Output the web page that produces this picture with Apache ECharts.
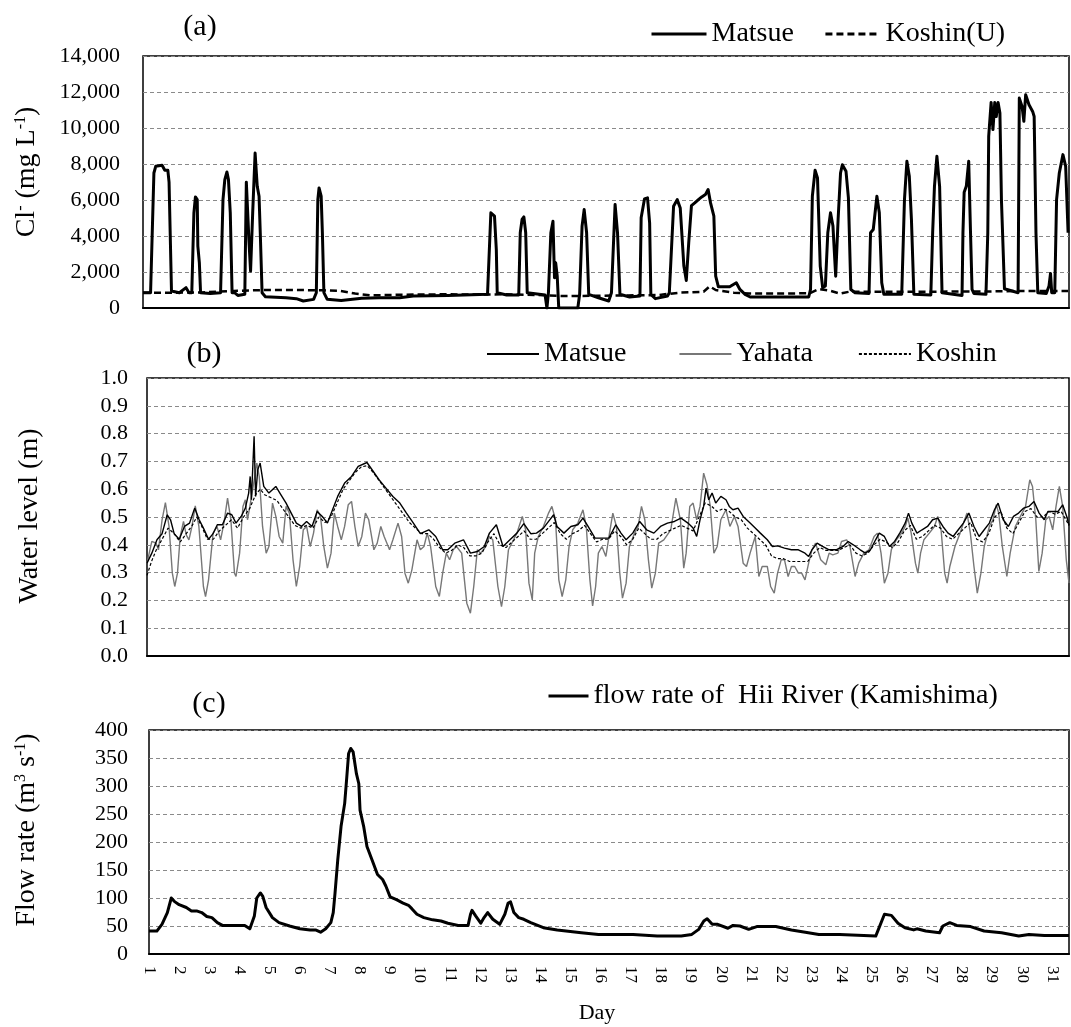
<!DOCTYPE html>
<html><head><meta charset="utf-8">
<script src="https://cdn.jsdelivr.net/npm/echarts@6/dist/echarts.min.js"></script>
<style>html,body{margin:0;padding:0;background:#fff}#c{width:1071px;height:1027px}</style>
</head><body><div id="c"></div>
<script>
// ---------- DATA (day, value) ----------
const dayTicks = [1,2,3,4,5,6,7,8,9,10,11,12,13,14,15,16,17,18,19,20,21,22,23,24,25,26,27,28,29,30,31];

// (a) Cl- Matsue
const matsueCl = [[1.00,850],[1.25,850],[1.36,7500],[1.42,7870],[1.63,7930],[1.72,7650],[1.82,7650],[1.86,6990],[1.94,940],[2.20,850],[2.42,1130],[2.52,850],[2.61,850],[2.68,5290],[2.73,6170],[2.79,6020],[2.81,3440],[2.86,2510],[2.90,850],[3.22,810],[3.56,850],[3.64,6020],[3.70,7130],[3.77,7560],[3.82,7130],[3.88,5290],[3.94,850],[4.02,850],[4.13,700],[4.36,760],[4.41,6990],[4.45,6990],[4.50,3620],[4.55,2050],[4.62,5290],[4.70,8610],[4.77,6760],[4.83,6210],[4.87,4180],[4.93,850],[5.04,630],[5.72,570],[6.06,520],[6.29,390],[6.63,480],[6.72,850],[6.77,6020],[6.81,6670],[6.88,6210],[6.92,4180],[6.97,850],[7.08,480],[7.54,420],[8.22,540],[8.79,570],[9.47,570],[9.92,670],[11.06,700],[12.37,760],[12.43,850],[12.48,5290],[12.52,5380],[12.60,5100],[12.66,3250],[12.69,850],[13.00,720],[13.40,720],[13.45,4180],[13.51,4920],[13.57,5060],[13.63,4180],[13.68,850],[14.27,720],[14.33,0],[14.38,850],[14.46,4180],[14.53,4820],[14.58,1680],[14.62,2510],[14.67,1770],[14.72,0],[15.35,0],[15.41,760],[15.44,850],[15.49,4550],[15.56,5470],[15.64,4180],[15.71,760],[16.03,570],[16.37,390],[16.46,850],[16.58,5750],[16.66,4180],[16.74,760],[17.06,610],[17.40,670],[17.44,5010],[17.55,6060],[17.65,6120],[17.72,4730],[17.76,760],[17.91,520],[18.31,670],[18.37,850],[18.51,5650],[18.63,6020],[18.73,5560],[18.85,2330],[18.93,1530],[19.01,3620],[19.10,5690],[19.21,5840],[19.33,6020],[19.44,6170],[19.56,6300],[19.65,6580],[19.73,5840],[19.84,5100],[19.90,1770],[19.99,1180],[20.36,1180],[20.58,1400],[20.70,1030],[20.87,760],[21.04,610],[21.72,610],[22.97,610],[23.03,1030],[23.09,6210],[23.18,7650],[23.26,7230],[23.35,2330],[23.43,1130],[23.52,1220],[23.60,4180],[23.69,5290],[23.77,4550],[23.86,1770],[23.94,4920],[24.02,7500],[24.08,7960],[24.20,7600],[24.28,6120],[24.36,1030],[24.50,850],[24.96,810],[25.01,4180],[25.10,4360],[25.22,6210],[25.30,5290],[25.38,1400],[25.45,760],[26.04,760],[26.13,6020],[26.21,8150],[26.29,7320],[26.36,4920],[26.44,760],[27.00,720],[27.06,4180],[27.12,6760],[27.20,8430],[27.29,6760],[27.37,850],[28.03,700],[28.06,4180],[28.10,6430],[28.17,6760],[28.25,8150],[28.31,4180],[28.36,1030],[28.42,810],[28.82,760],[28.88,4180],[28.91,9540],[28.99,11420],[29.05,9910],[29.11,11420],[29.16,10640],[29.22,11420],[29.28,10830],[29.33,6020],[29.43,1070],[29.88,850],[29.92,11660],[30.01,11200],[30.07,10370],[30.13,11850],[30.24,11290],[30.36,10920],[30.41,10640],[30.47,4180],[30.53,850],[30.81,810],[30.90,1220],[30.95,1920],[30.99,850],[31.09,850],[31.15,6020],[31.24,7500],[31.36,8520],[31.45,7870],[31.53,4180]];

// (a) Cl- Koshin(U)
const koshinCl = [[1.00,850],[2.00,850],[3.00,870],[4.00,950],[5.00,1000],[6.00,1000],[7.00,980],[7.50,950],[8.00,800],[8.50,700],[9.00,720],[10.00,750],[11.00,760],[12.00,750],[13.00,760],[14.00,720],[15.00,660],[16.00,680],[17.00,700],[18.00,720],[18.70,850],[19.50,900],[19.70,1200],[19.90,1000],[20.50,850],[21.00,800],[22.00,800],[23.00,820],[23.30,1050],[23.70,950],[24.00,800],[24.30,900],[25.00,900],[26.00,900],[27.00,900],[28.00,920],[29.00,920],[30.00,950],[31.00,950],[31.53,950]];

// (b) water level
const matsueWL = [[1.00,0.334],[1.16,0.37],[1.33,0.418],[1.50,0.44],[1.67,0.508],[1.78,0.49],[1.90,0.44],[2.07,0.42],[2.24,0.466],[2.41,0.478],[2.58,0.532],[2.73,0.49],[2.87,0.46],[3.04,0.42],[3.19,0.44],[3.33,0.472],[3.50,0.472],[3.67,0.514],[3.81,0.508],[3.95,0.478],[4.12,0.502],[4.26,0.532],[4.37,0.586],[4.42,0.646],[4.46,0.562],[4.55,0.79],[4.60,0.574],[4.67,0.67],[4.75,0.694],[4.87,0.61],[5.04,0.586],[5.27,0.61],[5.44,0.58],[5.61,0.55],[5.78,0.514],[5.95,0.478],[6.12,0.466],[6.29,0.484],[6.47,0.466],[6.64,0.52],[6.81,0.502],[6.98,0.478],[7.15,0.526],[7.32,0.574],[7.55,0.622],[7.78,0.646],[8.00,0.682],[8.29,0.696],[8.46,0.67],[8.69,0.634],[8.92,0.604],[9.15,0.574],[9.38,0.55],[9.60,0.514],[9.83,0.478],[10.06,0.44],[10.34,0.454],[10.57,0.43],[10.80,0.382],[10.97,0.382],[11.20,0.406],[11.49,0.418],[11.72,0.37],[11.95,0.376],[12.18,0.394],[12.35,0.442],[12.58,0.472],[12.80,0.394],[13.03,0.418],[13.26,0.442],[13.49,0.476],[13.72,0.44],[13.91,0.442],[14.14,0.46],[14.31,0.484],[14.48,0.508],[14.59,0.466],[14.82,0.442],[15.05,0.466],[15.28,0.472],[15.45,0.496],[15.62,0.466],[15.85,0.424],[16.08,0.424],[16.31,0.424],[16.54,0.472],[16.71,0.442],[16.88,0.418],[17.10,0.442],[17.33,0.484],[17.56,0.454],[17.80,0.442],[18.02,0.466],[18.25,0.478],[18.48,0.484],[18.70,0.496],[18.93,0.478],[19.10,0.46],[19.22,0.43],[19.33,0.49],[19.45,0.538],[19.53,0.604],[19.62,0.562],[19.73,0.586],[19.85,0.55],[20.02,0.574],[20.19,0.562],[20.30,0.538],[20.42,0.526],[20.59,0.532],[20.76,0.502],[20.99,0.478],[21.16,0.46],[21.33,0.442],[21.56,0.418],[21.73,0.394],[21.90,0.396],[22.13,0.388],[22.36,0.382],[22.59,0.382],[22.81,0.37],[22.93,0.358],[23.04,0.382],[23.21,0.406],[23.39,0.394],[23.61,0.382],[23.84,0.382],[24.07,0.394],[24.24,0.412],[24.41,0.4],[24.64,0.382],[24.81,0.37],[24.98,0.382],[25.15,0.418],[25.27,0.442],[25.44,0.43],[25.61,0.394],[25.78,0.412],[25.95,0.442],[26.13,0.478],[26.24,0.514],[26.35,0.478],[26.52,0.442],[26.69,0.454],[26.87,0.466],[27.04,0.49],[27.21,0.496],[27.38,0.466],[27.55,0.442],[27.72,0.43],[27.89,0.454],[28.06,0.478],[28.24,0.514],[28.41,0.466],[28.58,0.43],[28.75,0.454],[28.92,0.478],[29.09,0.526],[29.21,0.55],[29.38,0.49],[29.55,0.466],[29.72,0.502],[29.89,0.514],[30.06,0.532],[30.23,0.538],[30.40,0.556],[30.57,0.514],[30.74,0.49],[30.86,0.52],[31.03,0.52],[31.20,0.52],[31.35,0.544],[31.49,0.5],[31.56,0.47]];

const yahataWL = [[1.00,0.334],[1.16,0.412],[1.30,0.406],[1.38,0.382],[1.50,0.49],[1.61,0.552],[1.73,0.466],[1.84,0.298],[1.92,0.25],[2.01,0.298],[2.10,0.43],[2.21,0.484],[2.30,0.436],[2.39,0.418],[2.49,0.466],[2.60,0.54],[2.72,0.466],[2.87,0.25],[2.94,0.214],[3.04,0.274],[3.19,0.442],[3.32,0.466],[3.44,0.418],[3.55,0.478],[3.67,0.568],[3.78,0.49],[3.90,0.298],[3.95,0.286],[4.07,0.37],[4.18,0.538],[4.26,0.562],[4.33,0.49],[4.41,0.538],[4.52,0.61],[4.64,0.694],[4.72,0.646],[4.83,0.466],[4.95,0.37],[5.04,0.394],[5.16,0.55],[5.27,0.502],[5.38,0.43],[5.50,0.406],[5.61,0.538],[5.72,0.514],[5.84,0.346],[5.95,0.25],[6.06,0.322],[6.18,0.454],[6.29,0.466],[6.41,0.394],[6.52,0.442],[6.64,0.526],[6.75,0.502],[6.86,0.394],[6.98,0.316],[7.10,0.37],[7.21,0.514],[7.32,0.466],[7.44,0.418],[7.55,0.466],[7.67,0.544],[7.78,0.556],[7.89,0.466],[8.00,0.394],[8.12,0.43],[8.24,0.514],[8.35,0.49],[8.52,0.382],[8.63,0.406],[8.75,0.466],[8.86,0.43],[9.04,0.382],[9.15,0.418],[9.32,0.478],[9.44,0.43],[9.55,0.298],[9.66,0.262],[9.78,0.31],[9.95,0.418],[10.06,0.382],[10.18,0.394],[10.29,0.442],[10.40,0.394],[10.57,0.25],[10.69,0.214],[10.80,0.298],[10.92,0.37],[11.03,0.346],[11.15,0.382],[11.26,0.394],[11.43,0.37],[11.60,0.19],[11.72,0.154],[11.83,0.25],[11.95,0.382],[12.06,0.37],[12.23,0.394],[12.35,0.43],[12.46,0.418],[12.63,0.25],[12.75,0.178],[12.86,0.25],[12.98,0.382],[13.15,0.418],[13.26,0.442],[13.44,0.502],[13.55,0.454],[13.66,0.262],[13.77,0.202],[13.85,0.37],[13.97,0.43],[14.14,0.466],[14.31,0.514],[14.42,0.538],[14.54,0.49],[14.65,0.274],[14.76,0.214],[14.88,0.274],[14.99,0.394],[15.11,0.454],[15.28,0.478],[15.45,0.526],[15.56,0.466],[15.68,0.274],[15.77,0.18],[15.87,0.25],[15.96,0.37],[16.08,0.394],[16.21,0.358],[16.33,0.442],[16.44,0.514],[16.56,0.466],[16.67,0.298],[16.76,0.208],[16.88,0.262],[16.99,0.394],[17.16,0.442],[17.28,0.466],[17.39,0.538],[17.50,0.49],[17.62,0.346],[17.73,0.244],[17.85,0.298],[17.96,0.406],[18.13,0.418],[18.36,0.454],[18.53,0.568],[18.68,0.49],[18.79,0.316],[18.87,0.37],[18.99,0.538],[19.10,0.55],[19.22,0.49],[19.33,0.538],[19.45,0.658],[19.56,0.616],[19.67,0.538],[19.79,0.37],[19.90,0.394],[20.02,0.49],[20.19,0.526],[20.32,0.466],[20.47,0.502],[20.59,0.466],[20.76,0.334],[20.87,0.322],[20.99,0.37],[21.16,0.43],[21.28,0.286],[21.39,0.322],[21.56,0.322],[21.67,0.25],[21.79,0.226],[21.90,0.298],[22.02,0.346],[22.13,0.346],[22.25,0.286],[22.36,0.322],[22.47,0.322],[22.59,0.298],[22.70,0.298],[22.81,0.274],[22.93,0.334],[23.04,0.382],[23.16,0.406],[23.33,0.346],[23.50,0.328],[23.61,0.37],[23.73,0.364],[23.90,0.37],[24.02,0.412],[24.19,0.418],[24.30,0.394],[24.47,0.286],[24.59,0.334],[24.76,0.37],[24.93,0.382],[25.10,0.43],[25.21,0.442],[25.33,0.37],[25.44,0.262],[25.56,0.298],[25.67,0.382],[25.84,0.418],[26.01,0.442],[26.13,0.466],[26.22,0.496],[26.33,0.442],[26.47,0.334],[26.55,0.298],[26.64,0.37],[26.75,0.418],[26.93,0.442],[27.10,0.466],[27.21,0.502],[27.32,0.454],[27.44,0.298],[27.52,0.262],[27.61,0.322],[27.78,0.394],[27.95,0.442],[28.06,0.478],[28.18,0.514],[28.29,0.442],[28.41,0.322],[28.52,0.226],[28.64,0.298],[28.75,0.394],[28.92,0.466],[29.04,0.49],[29.15,0.544],[29.23,0.514],[29.35,0.394],[29.50,0.286],[29.61,0.37],[29.78,0.466],[29.95,0.502],[30.12,0.538],[30.26,0.634],[30.35,0.61],[30.46,0.49],[30.56,0.304],[30.67,0.37],[30.79,0.49],[30.90,0.502],[31.02,0.454],[31.13,0.538],[31.24,0.61],[31.35,0.538],[31.47,0.346],[31.56,0.262]];

const koshinWL = [[1.00,0.29],[1.15,0.34],[1.30,0.38],[1.50,0.42],[1.70,0.46],[1.90,0.44],[2.10,0.41],[2.30,0.44],[2.50,0.47],[2.65,0.5],[2.80,0.47],[3.00,0.42],[3.20,0.42],[3.40,0.45],[3.60,0.47],[3.80,0.49],[4.00,0.46],[4.20,0.5],[4.40,0.53],[4.60,0.58],[4.75,0.6],[4.90,0.58],[5.10,0.57],[5.30,0.56],[5.50,0.53],[5.70,0.5],[5.90,0.47],[6.10,0.46],[6.30,0.47],[6.50,0.46],[6.70,0.5],[6.90,0.48],[7.10,0.5],[7.30,0.55],[7.50,0.6],[7.70,0.63],[7.90,0.66],[8.10,0.68],[8.30,0.685],[8.50,0.66],[8.70,0.63],[8.90,0.6],[9.10,0.57],[9.30,0.54],[9.50,0.51],[9.70,0.48],[9.90,0.46],[10.10,0.44],[10.30,0.44],[10.50,0.42],[10.70,0.39],[10.90,0.37],[11.10,0.38],[11.30,0.4],[11.50,0.39],[11.70,0.36],[11.90,0.36],[12.10,0.37],[12.30,0.41],[12.50,0.44],[12.70,0.4],[12.90,0.39],[13.10,0.41],[13.30,0.43],[13.50,0.45],[13.70,0.42],[13.90,0.42],[14.10,0.44],[14.30,0.46],[14.50,0.48],[14.70,0.44],[14.90,0.42],[15.10,0.44],[15.30,0.45],[15.50,0.47],[15.70,0.44],[15.90,0.41],[16.10,0.42],[16.30,0.42],[16.50,0.45],[16.70,0.43],[16.90,0.4],[17.10,0.42],[17.30,0.46],[17.50,0.44],[17.70,0.42],[17.90,0.42],[18.10,0.44],[18.30,0.45],[18.50,0.46],[18.70,0.47],[18.90,0.46],[19.10,0.45],[19.30,0.5],[19.50,0.55],[19.70,0.54],[19.90,0.52],[20.10,0.53],[20.30,0.52],[20.50,0.5],[20.70,0.49],[20.90,0.46],[21.10,0.44],[21.30,0.42],[21.50,0.4],[21.70,0.36],[21.90,0.35],[22.10,0.35],[22.30,0.34],[22.50,0.34],[22.70,0.34],[22.90,0.34],[23.10,0.37],[23.30,0.39],[23.50,0.38],[23.70,0.38],[23.90,0.38],[24.10,0.39],[24.30,0.4],[24.50,0.37],[24.70,0.36],[24.90,0.37],[25.10,0.4],[25.30,0.42],[25.50,0.41],[25.70,0.39],[25.90,0.41],[26.10,0.45],[26.30,0.47],[26.50,0.42],[26.70,0.43],[26.90,0.45],[27.10,0.47],[27.30,0.46],[27.50,0.43],[27.70,0.42],[27.90,0.44],[28.10,0.46],[28.30,0.48],[28.50,0.42],[28.70,0.41],[28.90,0.44],[29.10,0.5],[29.30,0.52],[29.50,0.46],[29.70,0.44],[29.90,0.48],[30.10,0.52],[30.30,0.53],[30.50,0.5],[30.70,0.5],[30.90,0.52],[31.10,0.51],[31.30,0.52],[31.56,0.47]];

// (c) flow rate
const flowHii = [[1.00,41],[1.26,41],[1.43,53],[1.61,74],[1.74,100],[1.84,94],[2.00,88],[2.24,83],[2.41,77],[2.58,77],[2.75,74],[2.92,67],[3.09,65],[3.27,56],[3.44,51],[3.84,51],[4.18,51],[4.35,45],[4.50,68],[4.58,100],[4.70,109],[4.78,103],[4.89,83],[5.10,65],[5.32,56],[5.67,50],[6.01,45],[6.35,43],[6.53,43],[6.70,39],[6.87,45],[7.04,56],[7.12,74],[7.18,109],[7.27,168],[7.38,228],[7.50,269],[7.57,316],[7.63,358],[7.70,367],[7.78,361],[7.89,322],[7.97,304],[8.01,257],[8.13,228],[8.24,192],[8.41,168],[8.59,142],[8.76,133],[8.87,121],[9.01,102],[9.22,97],[9.44,91],[9.62,87],[9.73,81],[9.90,71],[10.13,65],[10.42,61],[10.70,59],[10.93,55],[11.27,51],[11.60,51],[11.68,71],[11.73,78],[11.85,68],[12.02,55],[12.13,65],[12.25,74],[12.42,62],[12.65,53],[12.82,71],[12.93,91],[13.01,93],[13.12,74],[13.28,65],[13.45,62],[13.68,56],[14.10,47],[14.56,43],[15.36,38],[15.93,35],[17.08,35],[17.88,32],[18.68,32],[19.03,35],[19.26,44],[19.43,59],[19.54,63],[19.71,53],[19.89,53],[20.23,46],[20.40,51],[20.63,50],[20.92,44],[21.19,49],[21.82,49],[22.34,43],[22.80,39],[23.25,35],[23.94,35],[24.00,32],[25.14,32],[25.43,71],[25.66,69],[25.88,55],[26.11,47],[26.40,43],[26.51,45],[26.80,41],[27.26,38],[27.37,50],[27.60,56],[27.83,51],[28.29,49],[28.74,41],[29.32,38],[29.89,32],[30.23,35],[30.74,33],[31.56,33]];

// ---------- CHART ----------
const FF = 'Liberation Serif';
const DAY_MIN = 1, DAY_MAX = 31.56;
const chart = echarts.init(document.getElementById('c'));
const split = {show:true, lineStyle:{color:'#8a8a8a', type:[4,3], width:1}};
const gridBase = {show:true, borderColor:'#000', borderWidth:1.5, backgroundColor:'transparent', containLabel:false};
function xAx(gi, labels){
  return {type:'value', gridIndex:gi, min:DAY_MIN, max:DAY_MAX, interval:1,
    axisTick:{show:false}, splitLine:{show:false},
    axisLine:{show:true, onZero:false, lineStyle:{color:'#000', width:2}},
    axisLabel: labels ? {show:true, rotate:-90, margin:12, fontFamily:FF, fontSize:17, color:'#000',
      showMinLabel:true, showMaxLabel:true,
      formatter: v => dayTicks.indexOf(Math.round(v*1000)/1000) >= 0 ? String(v) : ''} : {show:false}};
}
function yAx(gi, min, max, interval, margin, fmt){
  return {type:'value', gridIndex:gi, min:min, max:max, interval:interval,
    axisTick:{show:false}, axisLine:{show:false}, splitLine:split,
    axisLabel:{margin:margin, fontFamily:FF, fontSize:22, color:'#000', formatter:fmt}};
}
const legText = {fontFamily:FF, fontSize:28, color:'#000'};
const legItem = {opacity:0, borderWidth:0};
const sup = {fontFamily:FF, fontSize:16, color:'#000', verticalAlign:'top'};
const nrm = {fontFamily:FF, fontSize:28, color:'#000'};

chart.setOption({
  animation:false,
  backgroundColor:'#fff',
  grid:[
    Object.assign({left:143, right:2, top:56, height:252}, gridBase),
    Object.assign({left:147, right:2, top:378, height:278}, gridBase),
    Object.assign({left:149, right:2, top:730, height:224}, gridBase)
  ],
  xAxis:[xAx(0,false), xAx(1,false), xAx(2,true)],
  yAxis:[
    yAx(0, 0, 14000, 2000, 23, v => v.toLocaleString('en-US')),
    yAx(1, 0, 1, 0.1, 19, v => v.toFixed(1)),
    yAx(2, 0, 400, 50, 21, v => String(v))
  ],
  legend:[
    {data:['Matsue','Koshin(U)'], left:645, top:15, itemWidth:55, itemHeight:14, itemGap:30, textStyle:legText, itemStyle:legItem, lineStyle:{width:3}, selectedMode:false},
    {data:['Matsue ','Yahata','Koshin'], left:481, top:335, itemWidth:52, itemHeight:14, itemGap:45, textStyle:legText, itemStyle:legItem, selectedMode:false},
    {data:['flow rate of  Hii River (Kamishima)'], left:542, top:677, itemWidth:40, itemHeight:14, itemGap:20, textStyle:legText, itemStyle:legItem, lineStyle:{width:3}, selectedMode:false}
  ],
  series:[
    {name:'Matsue', type:'line', xAxisIndex:0, yAxisIndex:0, data:matsueCl, symbol:'none', lineStyle:{color:'#000', width:3, join:'round'}, itemStyle:{color:'#000'}, z:3},
    {name:'Koshin(U)', type:'line', xAxisIndex:0, yAxisIndex:0, data:koshinCl, symbol:'none', lineStyle:{color:'#000', width:2.5, type:[7,4]}, itemStyle:{color:'#000'}, z:2},
    {name:'Matsue ', type:'line', xAxisIndex:1, yAxisIndex:1, data:matsueWL, symbol:'none', lineStyle:{color:'#000', width:1.4}, itemStyle:{color:'#000'}, z:4},
    {name:'Yahata', type:'line', xAxisIndex:1, yAxisIndex:1, data:yahataWL, symbol:'none', lineStyle:{color:'#777', width:1.4}, itemStyle:{color:'#777'}, z:2},
    {name:'Koshin', type:'line', xAxisIndex:1, yAxisIndex:1, data:koshinWL, symbol:'none', lineStyle:{color:'#000', width:1.2, type:[3,2]}, itemStyle:{color:'#000'}, z:3},
    {name:'flow rate of  Hii River (Kamishima)', type:'line', xAxisIndex:2, yAxisIndex:2, data:flowHii, symbol:'none', lineStyle:{color:'#000', width:3, join:'round'}, itemStyle:{color:'#000'}, z:3}
  ],
  graphic:[
    {type:'text', x:200, y:27, style:{text:'(a)', fontFamily:FF, fontSize:30, fill:'#000', align:'center', verticalAlign:'middle'}},
    {type:'text', x:204, y:354, style:{text:'(b)', fontFamily:FF, fontSize:30, fill:'#000', align:'center', verticalAlign:'middle'}},
    {type:'text', x:209, y:704, style:{text:'(c)', fontFamily:FF, fontSize:30, fill:'#000', align:'center', verticalAlign:'middle'}},
    {type:'text', x:27, y:172, rotation:Math.PI/2, style:{text:'{n|Cl}{s|-}{n| (mg L}{s|-1}{n|)}', rich:{n:nrm, s:sup}, align:'center', verticalAlign:'middle'}},
    {type:'text', x:30, y:516, rotation:Math.PI/2, style:{text:'Water level (m)', fontFamily:FF, fontSize:28, fill:'#000', align:'center', verticalAlign:'middle'}},
    {type:'text', x:27, y:830, rotation:Math.PI/2, style:{text:'{n|Flow rate (m}{s|3}{n| s}{s|-1}{n|)}', rich:{n:nrm, s:sup}, align:'center', verticalAlign:'middle'}},
    {type:'text', x:597, y:1013, style:{text:'Day', fontFamily:FF, fontSize:22, fill:'#000', align:'center', verticalAlign:'middle'}}
  ]
});
</script>
</body></html>
